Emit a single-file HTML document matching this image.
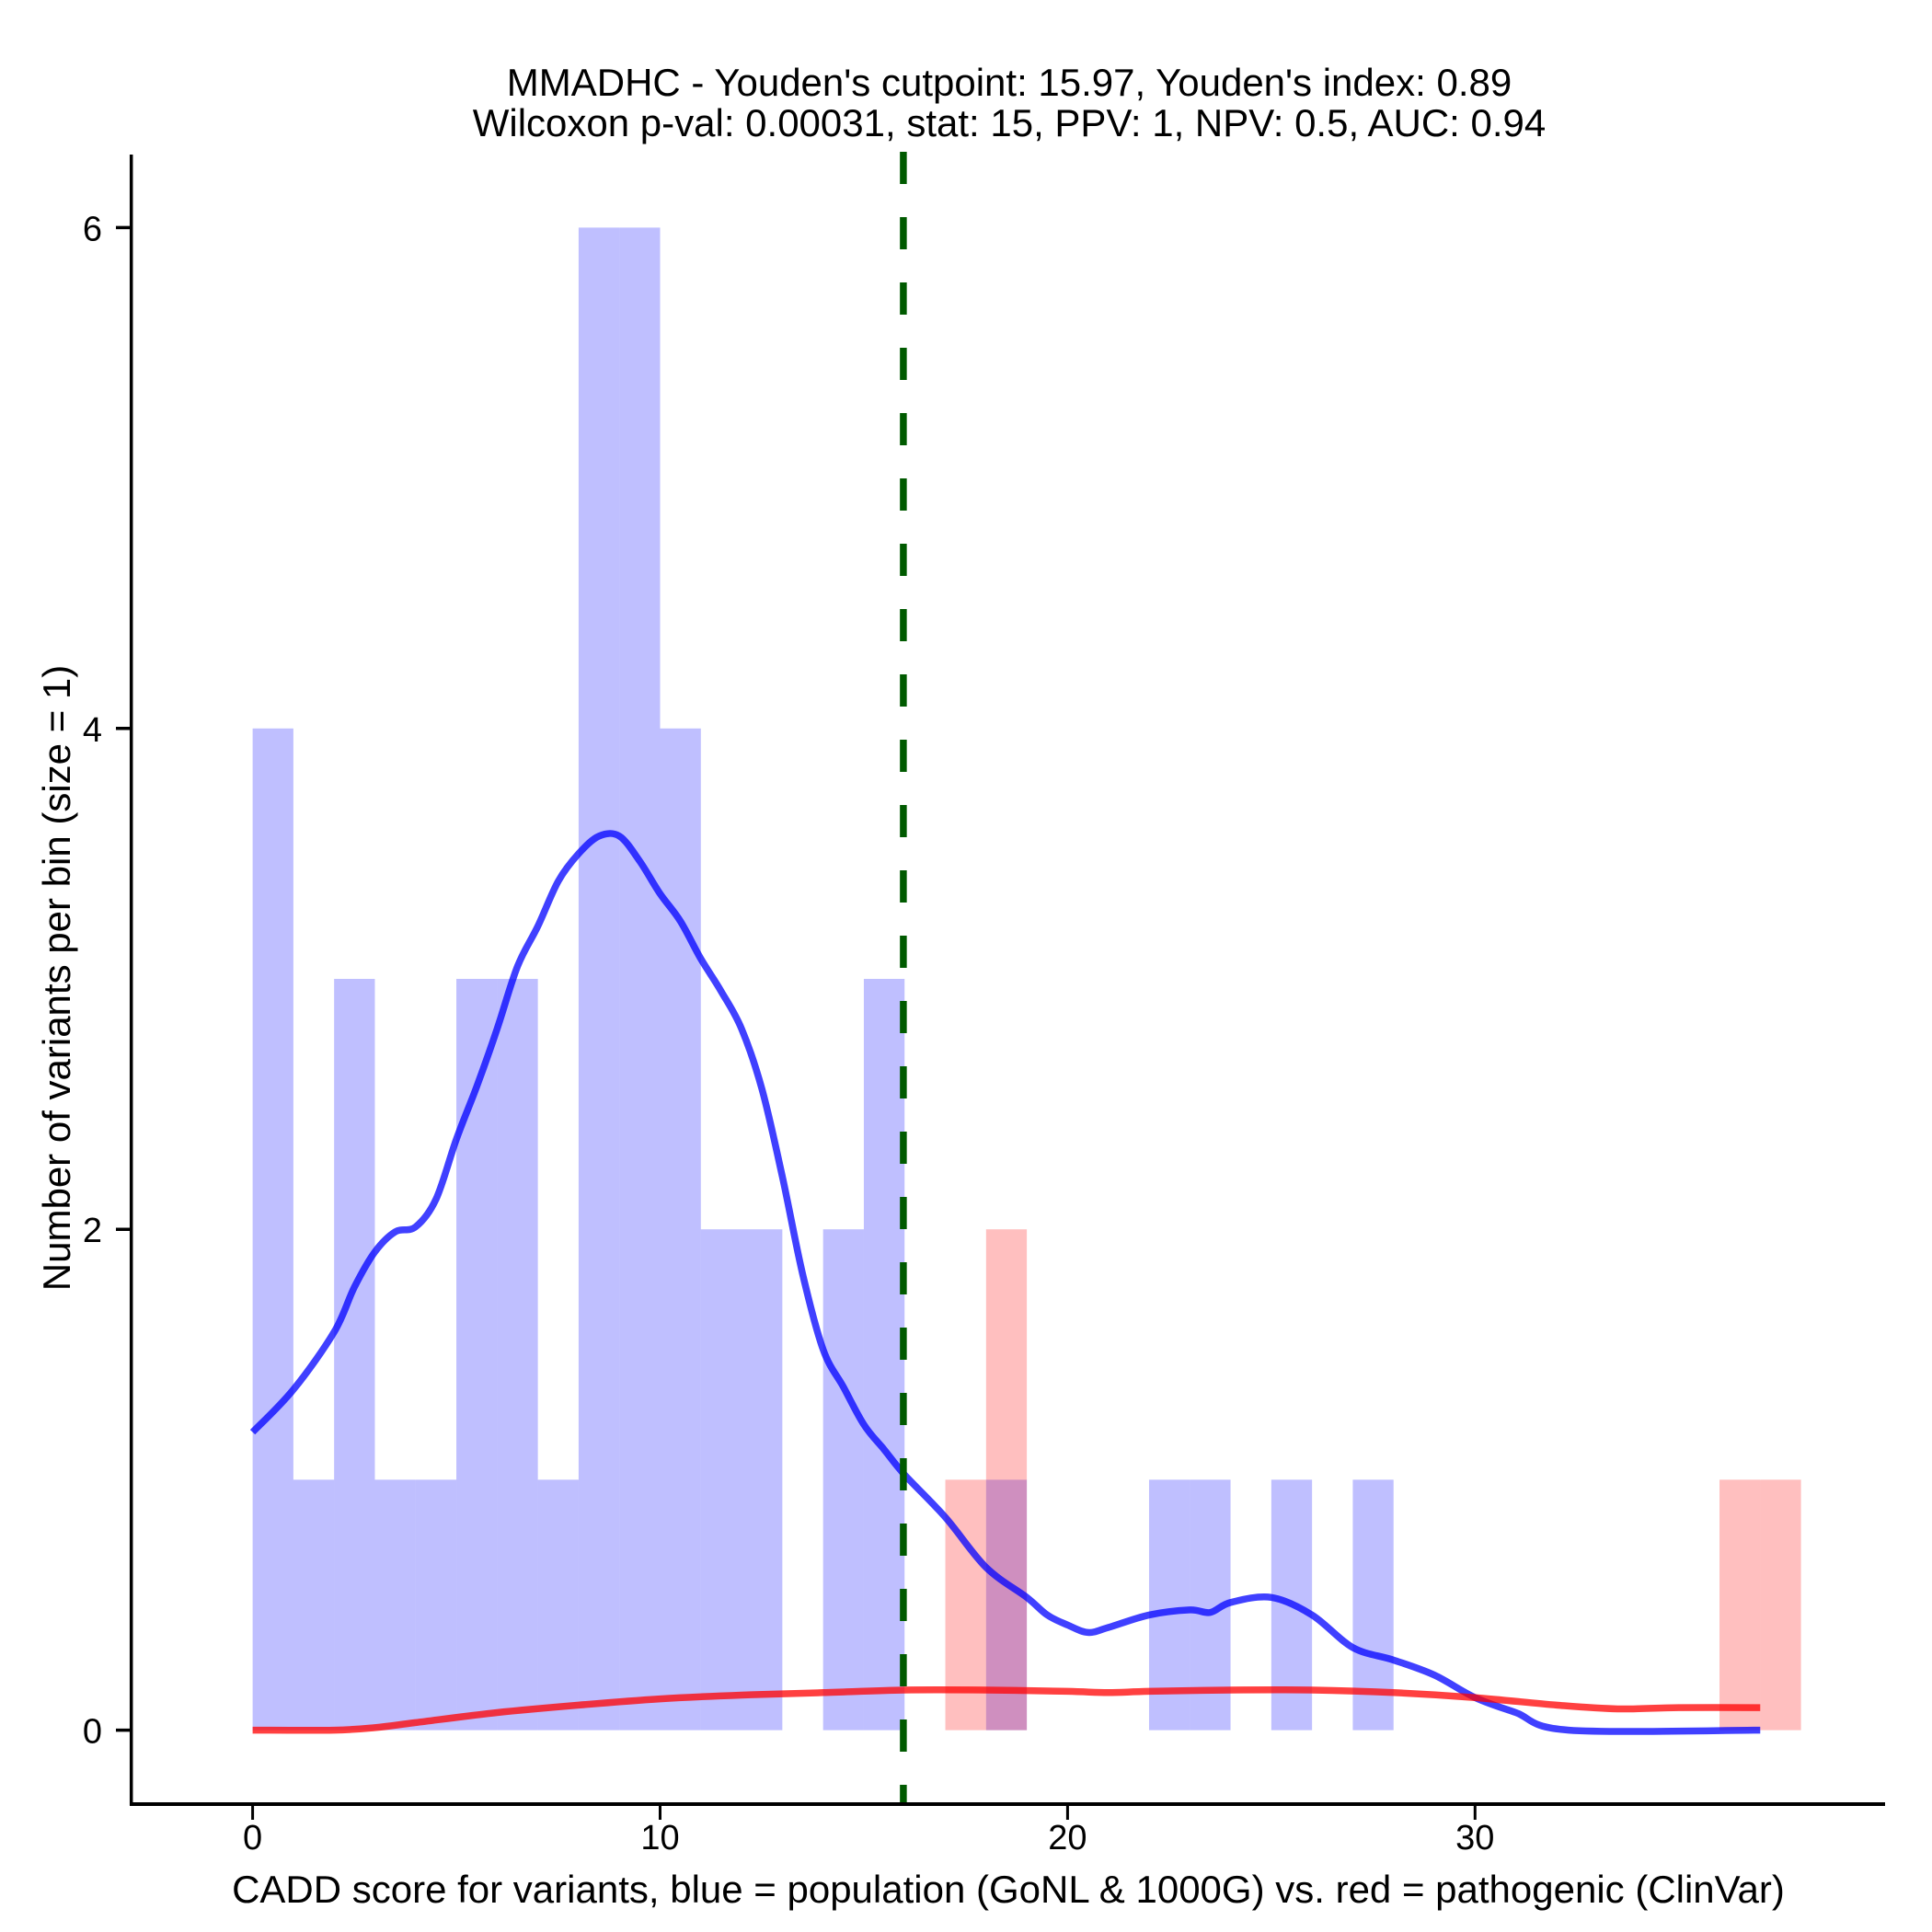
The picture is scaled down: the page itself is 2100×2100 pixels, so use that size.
<!DOCTYPE html>
<html><head><meta charset="utf-8"><style>
html,body{margin:0;padding:0;background:#fff;}
svg{display:block;font-family:"Liberation Sans",Arial,sans-serif;}
</style></head><body>
<svg id="chart" width="2100" height="2100" viewBox="0 0 2100 2100" xmlns="http://www.w3.org/2000/svg">
<rect x="0" y="0" width="2100" height="2100" fill="#fff"/>
<text x="1097" y="104" font-size="42" text-anchor="middle">MMADHC - Youden's cutpoint: 15.97, Youden's index: 0.89</text>
<text x="1097" y="148" font-size="42" text-anchor="middle">Wilcoxon p-val: 0.00031, stat: 15, PPV: 1, NPV: 0.5, AUC: 0.94</text>
<g id="bars"></g>
<g id="lines"></g>
<g id="axes"></g>
<text x="1096" y="2068" font-size="42" text-anchor="middle">CADD score for variants, blue = population (GoNL &amp; 1000G) vs. red = pathogenic (ClinVar)</text>
<text transform="translate(76,1063) rotate(-90)" font-size="42" text-anchor="middle">Number of variants per bin (size = 1)</text>
</svg>
<script>
const blueBins = [0,1,2,3,4,5,6,7,8,9,10,11,12,14,15,18,22,23,25,27];
const blueCounts = [4,1,3,1,1,3,3,1,6,6,4,2,2,2,3,1,1,1,1,1];
const redBins = [17,18,36,37];
const redCounts = [1,2,1,1];
const blueDensX = [0,1,2,2.5,3,3.5,4,4.5,5,5.5,6,6.5,7,7.5,8,8.5,9,9.5,10,10.5,11,11.5,12,12.5,13,13.5,14,14.5,15,15.5,16,17,18,19,19.5,20,20.5,21,22,23,23.5,24,25,26,27,28,29,30,31,32.3,37];
const blueDensY = [1.19,1.36,1.59,1.77,1.91,1.99,2.01,2.12,2.36,2.57,2.80,3.05,3.21,3.39,3.50,3.57,3.57,3.47,3.34,3.23,3.08,2.95,2.80,2.56,2.21,1.82,1.52,1.37,1.22,1.12,1.02,0.85,0.65,0.53,0.46,0.42,0.39,0.41,0.46,0.48,0.47,0.51,0.53,0.46,0.33,0.28,0.22,0.13,0.07,0,0];
const redDensX = [0,2,3,4,6,8,10,12,14,16,18,20,21,22,24,26,28,30,32,33.5,35,37];
const redDensY = [0,0,0.01,0.03,0.07,0.1,0.125,0.14,0.15,0.16,0.16,0.155,0.15,0.155,0.16,0.16,0.15,0.13,0.1,0.085,0.09,0.09];
const xTicks = [0,10,20,30];
const yTicks = [0,2,4,6];
const cutpoint = 15.97;

const NS = "http://www.w3.org/2000/svg";
const X = v => 274.6 + v * 44.29;
const Y = v => 1880.6 - v * 272.2;
function mk(tag, attrs, parent){const e=document.createElementNS(NS,tag);for(const k in attrs)e.setAttribute(k,attrs[k]);parent.appendChild(e);return e;}
const bars=document.getElementById('bars'), lines=document.getElementById('lines'), axes=document.getElementById('axes');

blueBins.forEach((b,i)=>{
  const r=mk('rect',{x:X(b),y:Y(blueCounts[i]),width:X(b+1)-X(b),height:Y(0)-Y(blueCounts[i]),fill:'rgba(0,0,255,0.25)'},bars);
  
  
});
redBins.forEach((b,i)=>{
  const r=mk('rect',{x:X(b),y:Y(redCounts[i]),width:X(b+1)-X(b),height:Y(0)-Y(redCounts[i]),fill:'rgba(255,0,0,0.25)'},bars);
  
  
});
function path(xs,ys){
  const p=xs.map((x,i)=>[X(x),Y(ys[i])]);
  let d='M'+p[0][0].toFixed(1)+','+p[0][1].toFixed(1);
  for(let i=0;i<p.length-1;i++){
    const p0=p[Math.max(0,i-1)],p1=p[i],p2=p[i+1],p3=p[Math.min(p.length-1,i+2)];
    const c1=[p1[0]+(p2[0]-p0[0])/6,p1[1]+(p2[1]-p0[1])/6];
    const c2=[p2[0]-(p3[0]-p1[0])/6,p2[1]-(p3[1]-p1[1])/6];
    d+=' C'+c1[0].toFixed(1)+','+c1[1].toFixed(1)+' '+c2[0].toFixed(1)+','+c2[1].toFixed(1)+' '+p2[0].toFixed(1)+','+p2[1].toFixed(1);
  }
  return d;
}
const bl=mk('path',{d:path(blueDensX,blueDensY),fill:'none',stroke:'rgba(0,0,255,0.75)','stroke-width':7.5,'stroke-linejoin':'round'},lines);


const rl=mk('path',{d:path(redDensX,redDensY),fill:'none',stroke:'rgba(255,0,0,0.75)','stroke-width':7.5,'stroke-linejoin':'round'},lines);


const cl=mk('line',{x1:X(cutpoint),x2:X(cutpoint),y1:165,y2:1961,stroke:'#005a00','stroke-width':7.5,'stroke-dasharray':'35 36'},lines);



const ya=mk('line',{x1:142.7,x2:142.7,y1:168,y2:1962,stroke:'#000','stroke-width':3.5},axes);


const xa=mk('line',{x1:141,x2:2049,y1:1961,y2:1961,stroke:'#000','stroke-width':4},axes);


xTicks.forEach(t=>{
  const l=mk('line',{x1:X(t),x2:X(t),y1:1961,y2:1978,stroke:'#000','stroke-width':3},axes);
  
  
  const tx=mk('text',{x:X(t),y:2010,'font-size':38,'text-anchor':'middle'},axes);
  tx.textContent=t;
  
  
});
yTicks.forEach(t=>{
  const l=mk('line',{x1:126,x2:143,y1:Y(t),y2:Y(t),stroke:'#000','stroke-width':3.5},axes);
  
  
  const tx=mk('text',{x:111,y:Y(t)+14,'font-size':38,'text-anchor':'end'},axes);
  tx.textContent=t;
  
  
});
</script>
</body></html>
